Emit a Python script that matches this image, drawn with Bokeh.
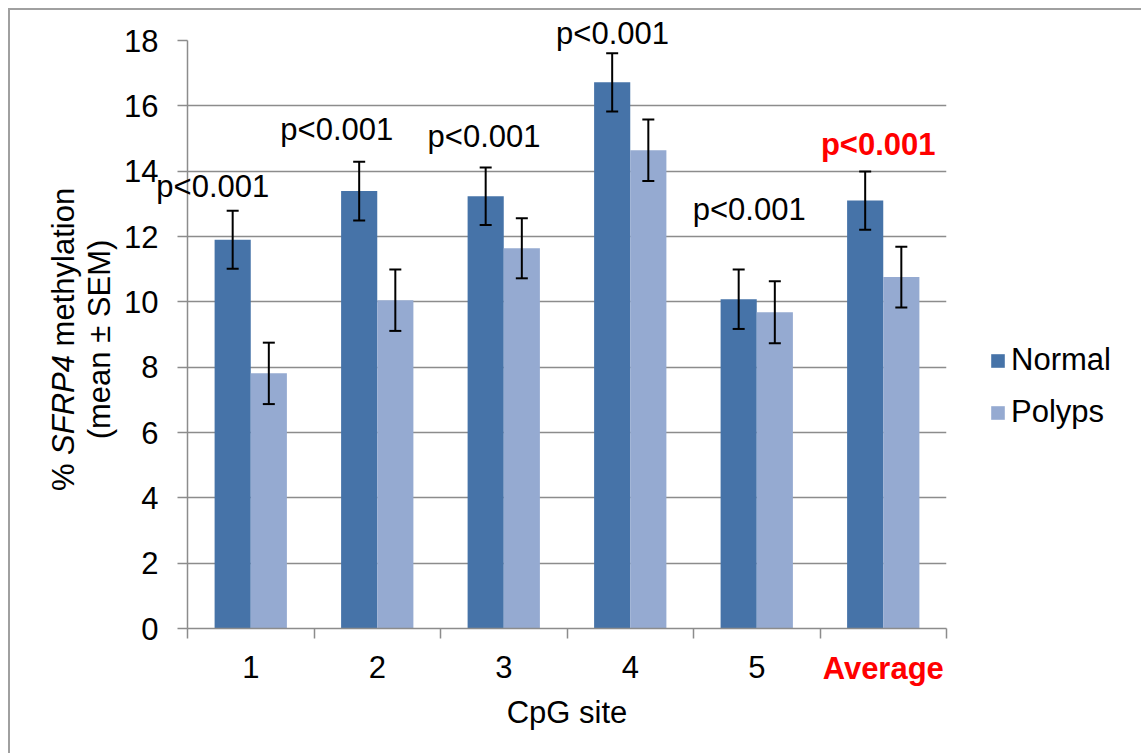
import math
from bokeh.plotting import figure
from bokeh.models import (ColumnDataSource, Whisker, TeeHead, Label, Legend,
                          LegendItem, FixedTicker, Range1d)
from bokeh.embed import file_html
from bokeh.resources import INLINE

# ---------------- data ----------------
categories = ["1", "2", "3", "4", "5", "Average"]
normal = [11.90, 13.39, 13.23, 16.72, 10.08, 13.10]
polyps = [7.81, 10.05, 11.64, 14.64, 9.68, 10.76]
normal_sem = [0.89, 0.90, 0.88, 0.89, 0.91, 0.89]
polyps_sem = [0.94, 0.94, 0.92, 0.94, 0.95, 0.93]
p_texts = ["p<0.001", "p<0.001", "p<0.001", "p<0.001", "p<0.001", "p<0.001"]
y_ticks = [0, 2, 4, 6, 8, 10, 12, 14, 16, 18]

# ---------------- styling ----------------
FONT = "Liberation Sans"
FSN = 31
FS = f"{FSN}px"
DARK = "#4673A8"
LIGHT = "#95AAD1"
GRID = "#8c8c8c"
RED = "#FF0000"

BAR_W = 0.2857
n = len(categories)
centers = [i + 0.5 for i in range(n)]
x_dark = [c - BAR_W / 2 for c in centers]
x_light = [c + BAR_W / 2 for c in centers]

src = ColumnDataSource(dict(
    x_dark=x_dark, x_light=x_light, normal=normal, polyps=polyps,
    n_up=[v + e for v, e in zip(normal, normal_sem)],
    n_lo=[v - e for v, e in zip(normal, normal_sem)],
    p_up=[v + e for v, e in zip(polyps, polyps_sem)],
    p_lo=[v - e for v, e in zip(polyps, polyps_sem)],
))

FW, FH = 759, 588
p = figure(frame_width=FW, frame_height=FH,
           x_range=Range1d(0, n), y_range=Range1d(0, 18),
           output_backend="svg", toolbar_location=None,
           min_border_left=177, min_border_top=30,
           min_border_right=193, min_border_bottom=125,
           background_fill_color="white", border_fill_color="white")
p.styles = {"margin-left": "8px", "margin-top": "8px",
            "border-left": "2px solid #a0a0a0", "border-top": "2px solid #a0a0a0"}
p.outline_line_color = None

r_n = p.vbar(x="x_dark", top="normal", width=BAR_W, bottom=0, source=src,
             fill_color=DARK, line_color=None)
r_p = p.vbar(x="x_light", top="polyps", width=BAR_W, bottom=0, source=src,
             fill_color=LIGHT, line_color=None)

for base, up, lo in [("x_dark", "n_up", "n_lo"), ("x_light", "p_up", "p_lo")]:
    w = Whisker(base=base, upper=up, lower=lo, source=src, dimension="height",
                line_color="black", line_width=2, level="overlay",
                upper_head=TeeHead(size=12, line_color="black", line_width=2),
                lower_head=TeeHead(size=12, line_color="black", line_width=2))
    p.add_layout(w)

# x axis: labels at category centres, tick marks (minor) at category boundaries
p.xaxis.ticker = FixedTicker(ticks=centers, minor_ticks=list(range(n + 1)))
p.xaxis.major_label_overrides = {c: (lab if lab != "Average" else " ")
                                 for c, lab in zip(centers, categories)}
p.xaxis.major_tick_out = 0
p.xaxis.major_tick_in = 0
p.xaxis.minor_tick_out = 10
p.xaxis.minor_tick_in = 0
p.xaxis.minor_tick_line_color = GRID
p.xaxis.minor_tick_line_width = 1.5
p.xaxis.axis_line_color = GRID
p.xaxis.axis_line_width = 1.5
p.xaxis.major_label_text_font = FONT
p.xaxis.major_label_text_font_size = FS
p.xaxis.major_label_text_color = "black"
p.xaxis.major_label_standoff = 11
p.xaxis.axis_label = "CpG site"
p.xaxis.axis_label_text_font = FONT
p.xaxis.axis_label_text_font_size = FS
p.xaxis.axis_label_text_font_style = "normal"
p.xaxis.axis_label_text_color = "black"
p.xaxis.axis_label_standoff = 7

p.yaxis.ticker = FixedTicker(ticks=y_ticks)
p.yaxis.major_tick_out = 10
p.yaxis.major_tick_in = 0
p.yaxis.minor_tick_out = 0
p.yaxis.minor_tick_in = 0
p.yaxis.axis_line_color = GRID
p.yaxis.axis_line_width = 1.5
p.yaxis.major_tick_line_color = GRID
p.yaxis.major_tick_line_width = 1.5
p.yaxis.major_label_text_font = FONT
p.yaxis.major_label_text_font_size = FS
p.yaxis.major_label_text_color = "black"
p.yaxis.major_label_standoff = 19

p.xgrid.grid_line_color = None
p.ygrid.grid_line_color = GRID
p.ygrid.grid_line_width = 1.5

# legend (outside, right panel; added first so it sits next to the frame)
legend = Legend(items=[LegendItem(label="Normal", renderers=[r_n]),
                       LegendItem(label="Polyps", renderers=[r_p])],
                location=(43, 198), orientation="vertical",
                glyph_width=17, glyph_height=17, label_standoff=5, spacing=16,
                padding=0, margin=0, border_line_color=None,
                background_fill_alpha=0,
                label_text_font=FONT, label_text_font_size=FS,
                label_text_color="black")
p.add_layout(legend, "right")

# helpers: page-pixel layout positions -> data coordinates of the frame
FL, FT = 187.0, 40.0
def dx(px):
    return (px - FL) / FW * n
def dy(py):
    return (FT + FH - py) / FH * 18

outside = []  # labels reaching beyond the frame (side panel => not clipped)

# red bold "Average" category label
outside.append(Label(x=centers[-1], y=dy(667.5), text=categories[-1],
                     text_align="center", text_baseline="alphabetic",
                     text_font=FONT, text_font_size=FS, text_font_style="bold",
                     text_color=RED))

# p-value annotations (offsets relative to category centre, baselines in data units)
p_dx = [-0.30, -0.32, -0.156, -0.14, -0.06, -0.04]
p_yb = [13.54, 15.28, 15.07, 18.21, 12.83, 14.82]
for i, t in enumerate(p_texts):
    is_avg = (categories[i] == "Average")
    outside.append(Label(x=centers[i] + p_dx[i], y=p_yb[i], text=t,
                         text_align="center", text_baseline="alphabetic",
                         text_font=FONT, text_font_size=FS,
                         text_font_style="bold" if is_avg else "normal",
                         text_color=RED if is_avg else "black"))

# y axis title (rotated, with italic gene name); advance widths in em (Arial metrics)
em = float(FSN)
pieces = [("%", "normal", 0.889 + 0.278), ("SFRP4", "italic", 3.223 + 0.278),
          ("methylation", "normal", 5.113)]
total = sum(w for _, _, w in pieces) * em
pos = 339.0 + total / 2
for txt, style, w_em in pieces:
    outside.append(Label(x=dx(62.5), y=dy(pos), text=txt, angle=math.pi / 2,
                         text_align="left", text_baseline="alphabetic",
                         text_font=FONT, text_font_size=FS, text_font_style=style,
                         text_color="black"))
    pos -= w_em * em
outside.append(Label(x=dx(98.5), y=dy(339.0), text="(mean ± SEM)", angle=math.pi / 2,
                     text_align="center", text_baseline="alphabetic",
                     text_font=FONT, text_font_size=FS, text_color="black"))

for lab in outside:
    p.add_layout(lab, "right")

open("out.html", "w").write(file_html(p, INLINE))
